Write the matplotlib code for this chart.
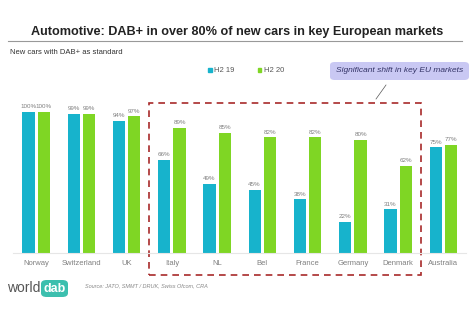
import matplotlib.pyplot as plt
from matplotlib.patches import Rectangle, FancyBboxPatch, Patch
import numpy as np

# Data
countries = ['Norway', 'Switzerland', 'UK', 'Italy', 'NL', 'Bel', 'France', 'Germany', 'Denmark', 'Australia']
h2_19 = [100, 99, 94, 66, 49, 45, 38, 22, 31, 75]
h2_20 = [100, 99, 97, 89, 85, 82, 82, 80, 62, 77]
series_names = ['H2 19', 'H2 20']

blue = '#17b3cc'
green = '#7fd624'
label_gray = '#808080'

plt.rcParams['font.family'] = ['Liberation Sans', 'DejaVu Sans']

fig = plt.figure(figsize=(4.74, 3.24), dpi=100)
W, H = 474, 324

def fx(px):
    return px / W

def fy(py):
    return 1 - py / H

# title and rule below it
fig.text(0.5, fy(32), 'Automotive: DAB+ in over 80% of new cars in key European markets',
         ha='center', va='center', fontsize=9.1, fontweight='bold', color='#222222')
fig.add_artist(plt.Line2D([fx(8), fx(462)], [fy(41), fy(41)], color='#999999', lw=0.8))
fig.text(fx(10), fy(52), 'New cars with DAB+ as standard', ha='left', va='center',
         fontsize=5.5, color='#333333')

# bar chart
ax = fig.add_axes([fx(13.5), fy(253), fx(452.5), 162 / H])
x = np.arange(len(countries))
w = 0.27
gap = 0.035
b1 = ax.bar(x - w / 2 - gap, h2_19, w, color=blue)
b2 = ax.bar(x + w / 2 + gap, h2_20, w, color=green)
for bars, vals in ((b1, h2_19), (b2, h2_20)):
    for r, v in zip(bars, vals):
        ax.text(r.get_x() + r.get_width() / 2, v + 2, f'{v}%', ha='center', va='bottom',
                fontsize=4.5, color=label_gray)

ax.set_xlim(-0.5, len(countries) - 0.5)
ax.set_ylim(0, 115)
ax.set_xticks(x)
ax.set_xticklabels(countries, fontsize=5.5, color=label_gray)
ax.tick_params(axis='x', length=0, pad=5)
ax.set_yticks([])
for s in ['top', 'left', 'right']:
    ax.spines[s].set_visible(False)
ax.spines['bottom'].set_color('#e6e6e6')
ax.spines['bottom'].set_linewidth(0.8)

# dashed box around key EU markets
box = Rectangle((2.5, -15.6), 6.0, 122, fill=False, ls=(0, (4, 3)), lw=1.2,
                edgecolor='#a82a2a', clip_on=False)
ax.add_patch(box)

# legend
handles = [Patch(color=blue), Patch(color=green)]
fig.legend(handles, series_names, loc='center', bbox_to_anchor=(fx(246), fy(71)), ncol=2,
           frameon=False, fontsize=5.5, handlelength=0.5, handleheight=0.5,
           handletextpad=0.3, columnspacing=3.0, labelcolor='#555555')

# annotation callout
callout = FancyBboxPatch((fx(330), fy(80)), fx(139), 18 / H,
                         boxstyle='round,pad=0,rounding_size=0.01',
                         transform=fig.transFigure, facecolor='#c9c8f3', edgecolor='none')
fig.add_artist(callout)
fig.text(fx(400), fy(71), 'Significant shift in key EU markets', ha='center', va='center',
         fontsize=6, style='italic', color='#333366')
fig.add_artist(plt.Line2D([fx(386), fx(376)], [fy(85), fy(99)], color='#555555', lw=0.5))

# footer: logo and source
fig.text(fx(7), fy(288), 'world', ha='left', va='center', fontsize=10, color='#555555')
logo = FancyBboxPatch((fx(41), fy(297)), fx(27), 17 / H,
                      boxstyle='round,pad=0,rounding_size=0.012',
                      transform=fig.transFigure, facecolor='#3cbfae', edgecolor='none')
fig.add_artist(logo)
fig.text(fx(54.5), fy(288.5), 'dab', ha='center', va='center', fontsize=9,
         fontweight='bold', color='white')
fig.text(fx(85), fy(286), 'Source: JATO, SMMT / DRUK, Swiss Ofcom, CRA', ha='left', va='center',
         fontsize=4, style='italic', color='#888888')

fig.savefig('out.png', dpi=100)
